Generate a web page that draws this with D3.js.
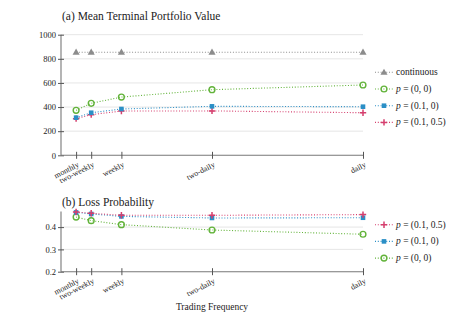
<!DOCTYPE html>
<html>
<head>
<meta charset="utf-8">
<script src="https://cdn.jsdelivr.net/npm/d3@7"></script>
<style>
  body { margin: 0; background: #fff; }
  svg text { font-family: "Liberation Serif", "DejaVu Serif", serif !important; fill: #222; }
</style>
</head>
<body>
<div id="chart"></div>
<script>
// trading frequency (trades per year) and their labels
let freqs = [12.5, 25, 50, 125, 250];
let freqLabels = ["monthly", "two-weekly", "weekly", "two-daily", "daily"];

// (a) mean terminal portfolio value
let valContinuous = [855, 855, 855, 855, 855];
let valP00 = [373, 431, 483, 544, 583];
let valP010 = [312, 353, 384, 406, 403];
let valP0105 = [304, 337, 367, 368, 353];
let valTicks = [0, 200, 400, 600, 800, 1000];

// (b) loss probability
let lossP0105 = [0.468, 0.462, 0.453, 0.453, 0.456];
let lossP010 = [0.466, 0.459, 0.448, 0.441, 0.442];
let lossP00 = [0.445, 0.429, 0.411, 0.387, 0.368];
let lossTicks = [0.2, 0.3, 0.4];

let colors = {cont: "#8c8c8c", p00: "#62b33a", p010: "#2b8fc6", p0105: "#d53f6e"};

let W = 471, H = 319;
let svg = d3.select("#chart").append("svg").attr("width", W).attr("height", H);

let x = d3.scaleLinear().domain([0, 250]).range([61, 363]);

function drawMarker(g, type, cx, cy, color) {
  if (type == "tri") {
    g.append("path").attr("d", d3.symbol(d3.symbolTriangle, 22)())
      .attr("transform", "translate(" + cx + "," + (cy + 0.5) + ")").attr("fill", color);
  } else if (type == "circle") {
    g.append("circle").attr("cx", cx).attr("cy", cy).attr("r", 2.9)
      .attr("fill", "none").attr("stroke", color).attr("stroke-width", 1.4);
  } else if (type == "square") {
    g.append("rect").attr("x", cx - 2.3).attr("y", cy - 2.3).attr("width", 4.6).attr("height", 4.6)
      .attr("fill", color);
  } else {
    g.append("path").attr("d", "M" + (cx - 3.2) + "," + cy + "H" + (cx + 3.2) + "M" + cx + "," + (cy - 3.2) + "V" + (cy + 3.2))
      .attr("stroke", color).attr("stroke-width", 1.5);
  }
}

function panel(opts) {
  let y = d3.scaleLinear().domain(opts.domain).range(opts.range);
  let g = svg.append("g");

  // grid
  g.selectAll("line.grid").data(opts.gridTicks).enter().append("line")
    .attr("x1", x.range()[0]).attr("x2", x.range()[1])
    .attr("y1", d => y(d)).attr("y2", d => y(d))
    .attr("stroke", "#e3e3e3").attr("stroke-width", 0.9);

  // y axis
  let yAxis = g.append("g").attr("transform", "translate(" + x.range()[0] + ",0)")
    .call(d3.axisLeft(y).tickValues(opts.ticks).tickSize(3).tickFormat(opts.fmt));
  yAxis.attr("font-family", null);
  yAxis.select(".domain").attr("stroke", "#777").attr("stroke-width", 1.1)
    .attr("d", "M0," + opts.range[0] + "V" + opts.range[1]);
  yAxis.selectAll(".tick line").attr("stroke", "#555").attr("x1", 3).attr("x2", -3);
  yAxis.selectAll(".tick text").attr("x", -5).style("font-size", "8.5px").attr("fill", "#333");

  // x axis
  let xAxis = g.append("g").attr("transform", "translate(0," + opts.range[0] + ")")
    .call(d3.axisBottom(x).tickValues(freqs).tickSize(3).tickFormat((d, i) => freqLabels[i]));
  xAxis.attr("font-family", null);
  xAxis.select(".domain").attr("stroke", "#777").attr("stroke-width", 1.1)
    .attr("d", "M" + x.range()[0] + ",0H" + x.range()[1]);
  xAxis.selectAll(".tick line").attr("stroke", "#555").attr("y1", -3.5).attr("y2", 3.5);
  xAxis.selectAll(".tick text")
    .attr("y", 0).attr("dy", 0)
    .attr("text-anchor", "end")
    .attr("transform", "translate(3,11) rotate(-27)")
    .style("font-size", "8px").attr("fill", "#333");

  // title
  g.append("text").attr("x", 62).attr("y", opts.titleY).text(opts.title)
    .style("font-size", "11.5px");

  // series
  let line = d3.line().x((d, i) => x(freqs[i])).y(d => y(d));
  opts.series.forEach(function(s) {
    g.append("path").datum(s.values).attr("d", line).attr("fill", "none")
      .attr("stroke", s.color).attr("stroke-width", 1.1).attr("stroke-dasharray", "1,1.8");
    s.values.forEach(function(v, i) { drawMarker(g, s.marker, x(freqs[i]), y(v), s.color); });
  });

  // legend
  opts.series.slice().reverse().forEach(function(s, i) {
    let ly = opts.legendY + i * opts.legendStep;
    let lg = g.append("g");
    lg.append("line").attr("x1", 375).attr("x2", 393).attr("y1", ly).attr("y2", ly)
      .attr("stroke", s.color).attr("stroke-width", 1.1).attr("stroke-dasharray", "1,1.8");
    drawMarker(lg, s.marker, 384, ly, s.color);
    let t = lg.append("text").attr("x", 396).attr("y", ly + 3).style("font-size", "9.5px");
    if (s.label == "continuous") {
      t.text("continuous");
    } else {
      t.append("tspan").style("font-style", "italic").text("p");
      t.append("tspan").text(" = " + s.label);
    }
  });
}

panel({
  domain: [0, 1000], range: [155.3, 34.7], ticks: valTicks, gridTicks: [200, 400, 600, 800, 1000],
  fmt: d3.format("d"), title: "(a) Mean Terminal Portfolio Value", titleY: 20,
  legendY: 72.3, legendStep: 16.7,
  series: [
    {label: "(0.1, 0.5)", values: valP0105, color: colors.p0105, marker: "plus"},
    {label: "(0.1, 0)", values: valP010, color: colors.p010, marker: "square"},
    {label: "(0, 0)", values: valP00, color: colors.p00, marker: "circle"},
    {label: "continuous", values: valContinuous, color: colors.cont, marker: "tri"}
  ]
});

panel({
  domain: [0.2, 0.47], range: [271.7, 211.5], ticks: lossTicks, gridTicks: [0.3, 0.4],
  fmt: d3.format(".1f"), title: "(b) Loss Probability", titleY: 206,
  legendY: 224.7, legendStep: 16.7,
  series: [
    {label: "(0, 0)", values: lossP00, color: colors.p00, marker: "circle"},
    {label: "(0.1, 0)", values: lossP010, color: colors.p010, marker: "square"},
    {label: "(0.1, 0.5)", values: lossP0105, color: colors.p0105, marker: "plus"}
  ]
});

svg.append("text").attr("x", 212).attr("y", 310).attr("text-anchor", "middle")
  .style("font-size", "9.5px").text("Trading Frequency");
</script>
</body>
</html>
